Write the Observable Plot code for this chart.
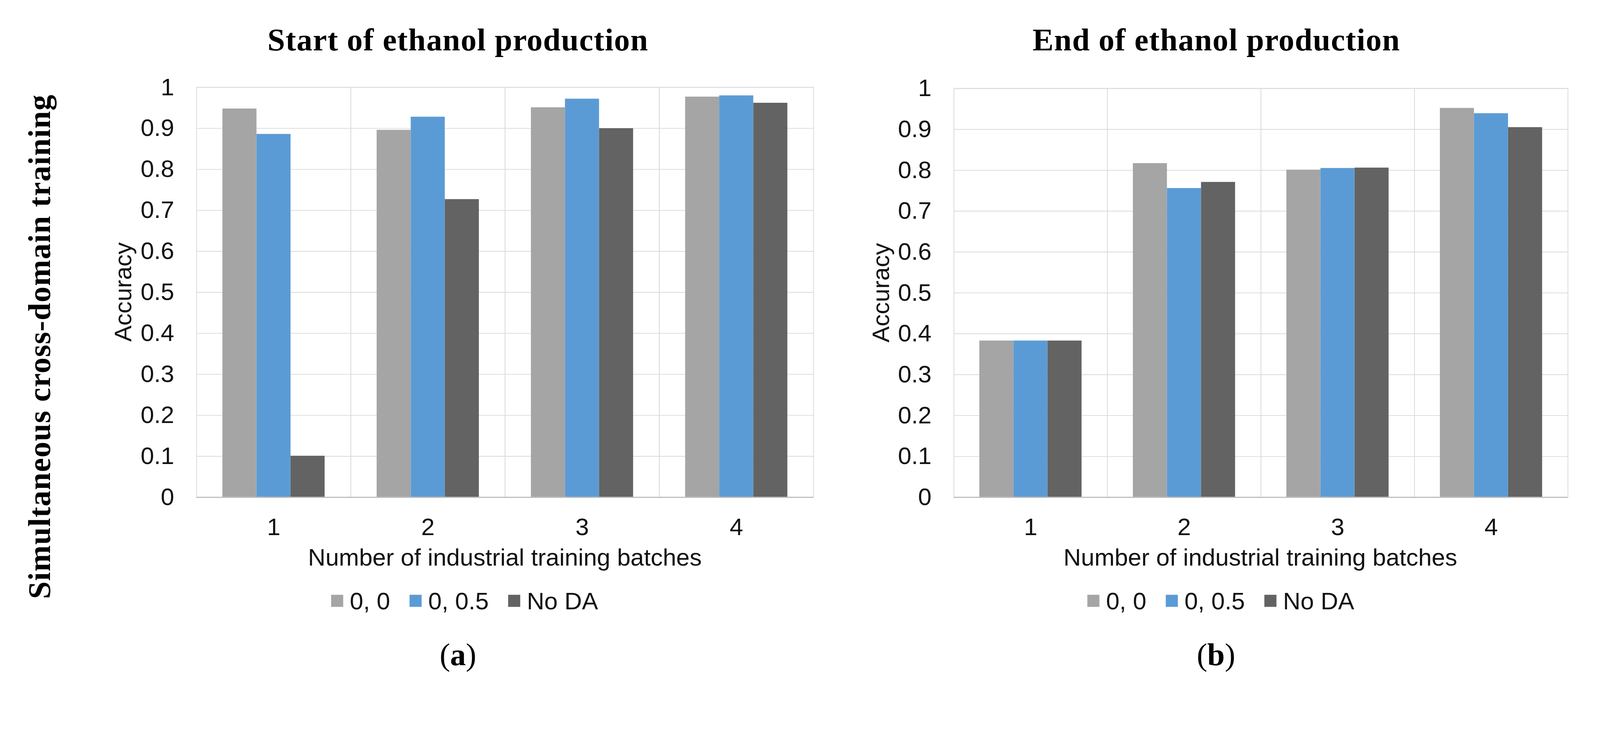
<!DOCTYPE html>
<html>
<head>
<meta charset="utf-8">
<script src="https://cdn.jsdelivr.net/npm/d3@7"></script>
<script src="https://cdn.jsdelivr.net/npm/@observablehq/plot@0.6"></script>
<style>
  html, body { margin: 0; padding: 0; background: #fff; overflow: hidden; }
  #page { position: relative; width: 4367px; height: 1892px; background: #fff; overflow: hidden; transform-origin: 0 0; }
  .layer { position: absolute; top: 0; }
</style>
</head>
<body>
<div id="page"></div>
<script>
// ---- data ----
const categories = ["1", "2", "3", "4"];
const series = ["0, 0", "0, 0.5", "No DA"];
const colors = ["#a5a5a5", "#5b9bd5", "#636363"];
const yTicks = [0, 0.1, 0.2, 0.3, 0.4, 0.5, 0.6, 0.7, 0.8, 0.9, 1];

const startGray = [0.948, 0.896, 0.951, 0.977];
const startBlue = [0.886, 0.928, 0.972, 0.980];
const startDark = [0.101, 0.727, 0.900, 0.962];

const endGray = [0.383, 0.817, 0.801, 0.952];
const endBlue = [0.383, 0.756, 0.805, 0.939];
const endDark = [0.383, 0.771, 0.806, 0.905];

const titles = ["Start of ethanol production", "End of ethanol production"];
const sideLabel = "Simultaneous cross-domain training";
const yLabel = "Accuracy";
const xLabel = "Number of industrial training batches";
const panelLetters = ["a", "b"];

// ---- build ----
const page = document.getElementById("page");
const fit = Math.min(window.innerWidth / 4367, window.innerHeight / 1892);
page.style.transform = `scale(${fit})`;

const fmt = d => String(+(+d).toFixed(1));

function buildRows(g, b, k) {
  const rows = [];
  categories.forEach((c, i) => {
    [g, b, k].forEach((arr, j) => rows.push({batch: c, series: series[j], value: arr[i]}));
  });
  return rows;
}

function chart(rows, opts) {
  return Plot.plot({
    width: opts.width,
    height: 1892,
    marginLeft: opts.marginLeft,
    marginRight: opts.marginRight,
    marginTop: opts.marginTop,
    marginBottom: 535,
    style: {
      fontFamily: "'Liberation Sans', Arial, sans-serif",
      fontSize: "66px",
      color: "#111",
      background: "transparent",
      maxWidth: "none",
      overflow: "visible"
    },
    facet: {data: rows, x: "batch"},
    fx: {domain: categories, padding: 0, axis: "bottom", tickSize: 0, tickPadding: 56, label: null},
    x: {domain: series, axis: null, paddingInner: 0, paddingOuter: 0.74},
    y: {domain: [0, 1], ticks: 10, tickFormat: fmt, tickSize: 0, tickPadding: 61, label: null},
    color: {domain: series, range: colors},
    marks: [
      Plot.ruleY(yTicks, {stroke: "#d9d9d9", strokeWidth: 2}),
      Plot.frame({stroke: "#d9d9d9", strokeWidth: 2}),
      Plot.barY(rows, {x: "series", y: "value", fill: "series"}),
      Plot.ruleY([0], {stroke: "#bfbfbf", strokeWidth: 3})
    ]
  });
}

const left = chart(buildRows(startGray, startBlue, startDark),
  {width: 2240, marginLeft: 536, marginRight: 20, marginTop: 238});
left.classList.add("layer");
left.style.left = "0px";
page.appendChild(left);

const right = chart(buildRows(endGray, endBlue, endDark),
  {width: 2127, marginLeft: 361, marginRight: 87, marginTop: 241});
right.classList.add("layer");
right.style.left = "2240px";
page.appendChild(right);

// ---- annotations ----
const ann = d3.create("svg")
  .attr("width", 4367).attr("height", 1892)
  .attr("class", "layer")
  .style("left", "0px")
  .style("pointer-events", "none");
page.appendChild(ann.node());

const serif = "'Liberation Serif', 'Times New Roman', serif";
const sans = "'Liberation Sans', Arial, sans-serif";

// titles
[[1250, titles[0]], [3320, titles[1]]].forEach(([x, t]) => {
  ann.append("text").attr("x", x).attr("y", 138)
    .attr("text-anchor", "middle")
    .style("font-family", serif).style("font-weight", "bold")
    .style("font-size", "86px").style("letter-spacing", "1.5px")
    .text(t);
});

// side label
ann.append("text")
  .attr("transform", "translate(137,946) rotate(-90)")
  .attr("text-anchor", "middle")
  .style("font-family", serif).style("font-weight", "bold")
  .style("font-size", "86px").style("letter-spacing", "1.5px")
  .text(sideLabel);

// y labels
[[358, 797], [2427, 799]].forEach(([x, y]) => {
  ann.append("text")
    .attr("transform", `translate(${x},${y}) rotate(-90)`)
    .attr("text-anchor", "middle")
    .style("font-family", sans).style("font-size", "66px").attr("fill", "#111")
    .text(yLabel);
});

// x labels
[1378, 3440].forEach(x => {
  ann.append("text").attr("x", x).attr("y", 1544)
    .attr("text-anchor", "middle")
    .style("font-family", sans).style("font-size", "66px").attr("fill", "#111")
    .text(xLabel);
});

// legends
function legend(cx, cy) {
  const g = ann.append("g");
  let x = 0;
  series.forEach((s, i) => {
    g.append("rect").attr("x", x).attr("y", cy - 16.5).attr("width", 33).attr("height", 33).attr("fill", colors[i]);
    const t = g.append("text").attr("x", x + 51).attr("y", cy + 23.5)
      .style("font-family", sans).style("font-size", "66px").attr("fill", "#111")
      .text(s);
    const len = t.node().getComputedTextLength();
    x += 51 + len + (i < series.length - 1 ? 53 : 0);
  });
  g.attr("transform", `translate(${cx - x / 2},0)`);
}
legend(1268, 1640);
legend(3332, 1640);

// panel letters
[[1250, panelLetters[0]], [3319, panelLetters[1]]].forEach(([x, l]) => {
  const t = ann.append("text").attr("x", x).attr("y", 1816)
    .attr("text-anchor", "middle")
    .style("font-family", serif).style("font-size", "86px");
  t.append("tspan").text("(");
  t.append("tspan").style("font-weight", "bold").text(l);
  t.append("tspan").text(")");
});
</script>
</body>
</html>
